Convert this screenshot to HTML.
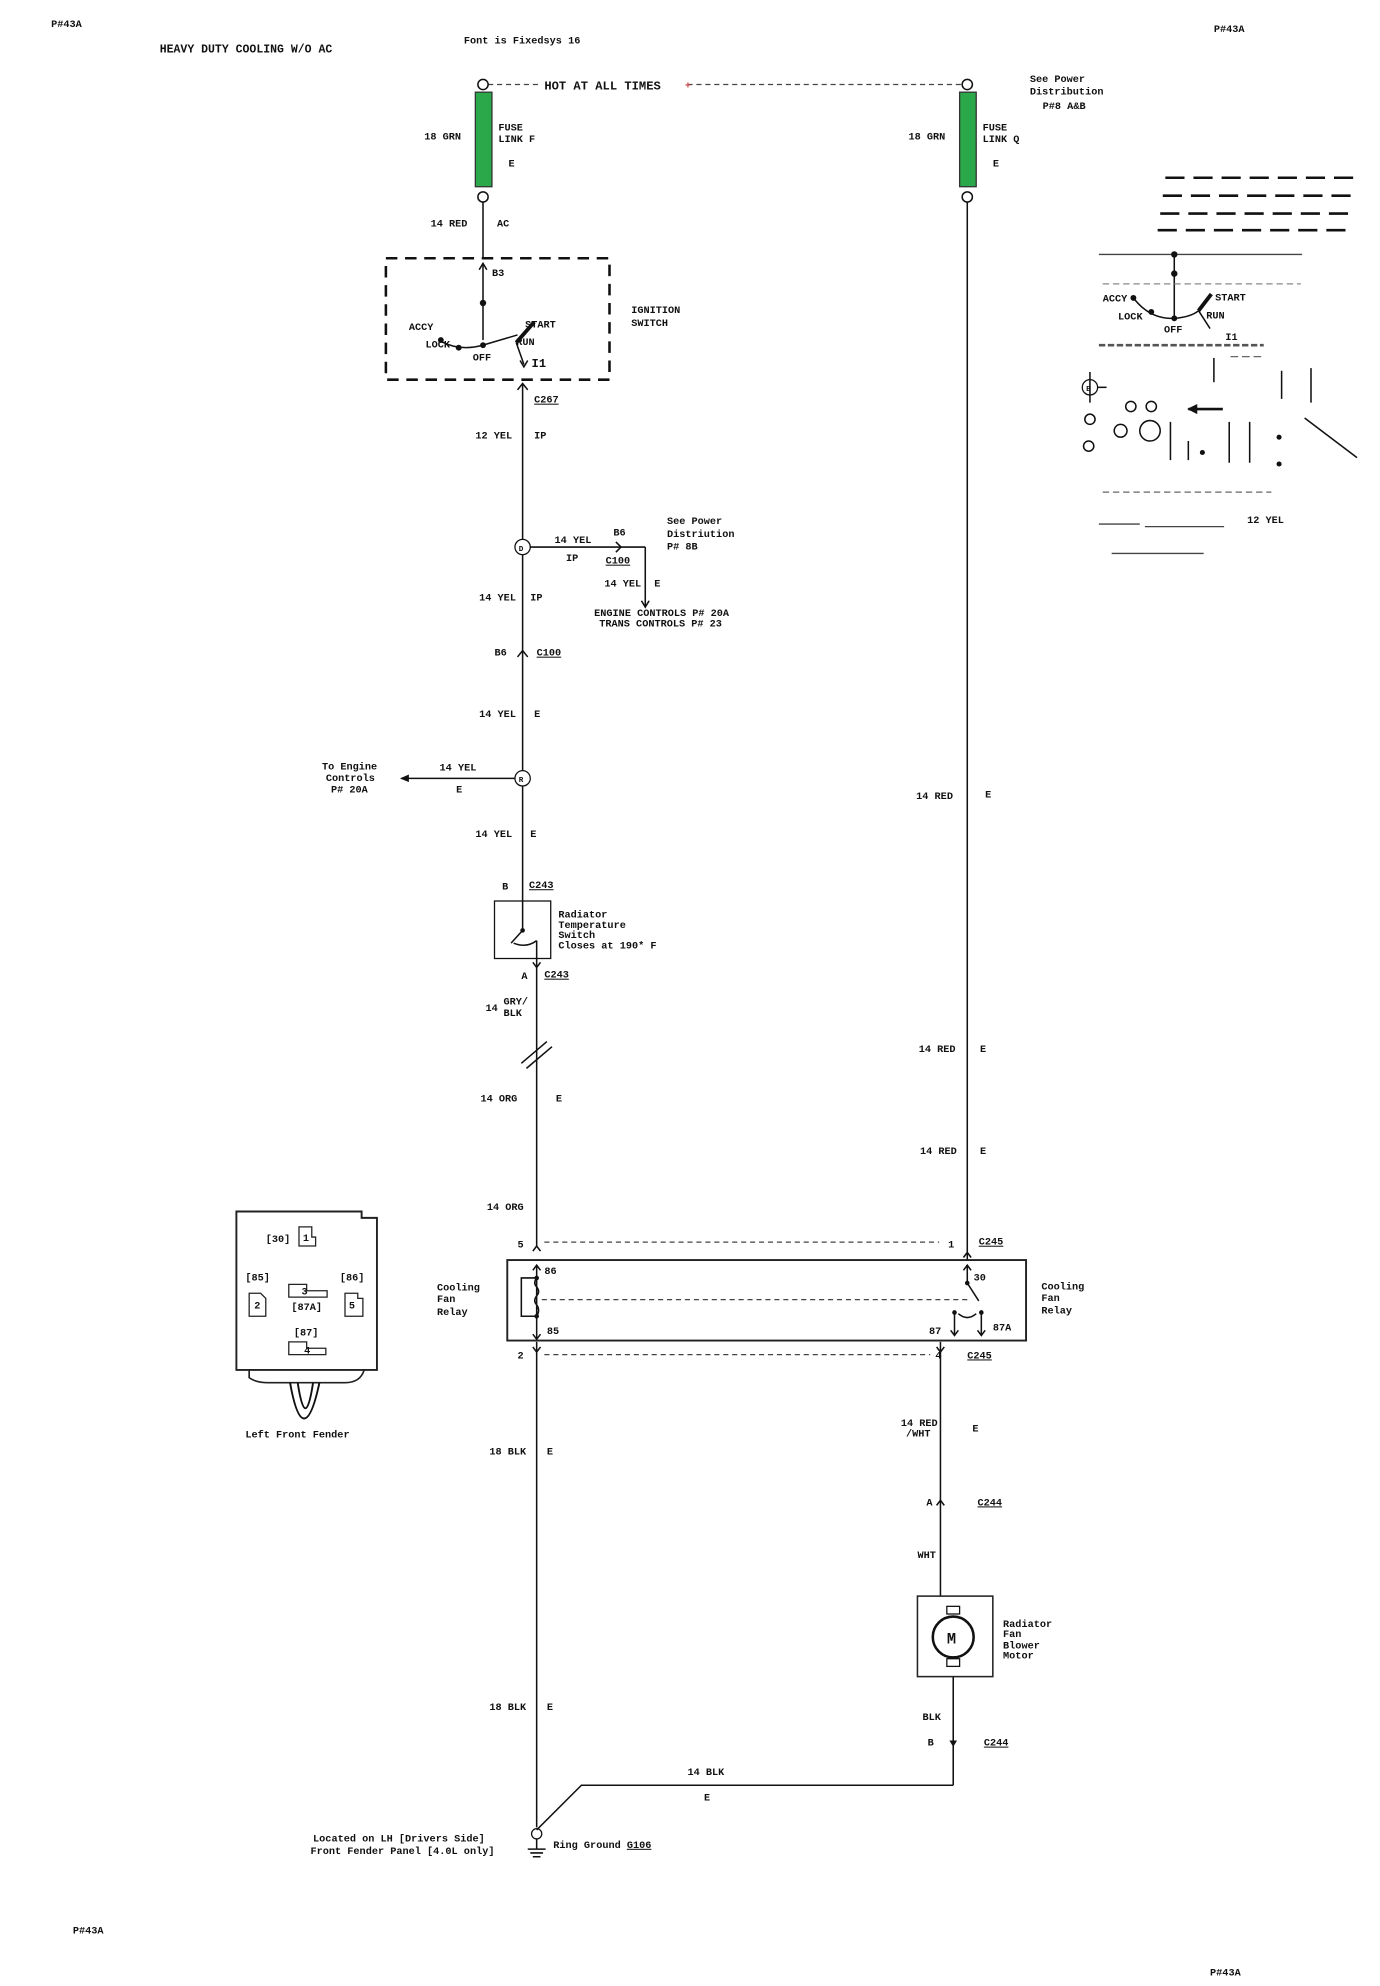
<!DOCTYPE html>
<html><head><meta charset="utf-8"><style>
html,body{margin:0;padding:0;background:#fff}
svg{display:block}
text{font-family:"Liberation Mono",monospace;font-size:8px;font-weight:bold;fill:#111}
.l{stroke:#111;stroke-width:1.2;fill:none}
.d{stroke:#444;stroke-width:1;stroke-dasharray:4 3;fill:none}
</style></head><body>
<svg width="1380" height="1986" viewBox="0 0 1080 1554" xmlns="http://www.w3.org/2000/svg">
<rect width="1080" height="1554" fill="#fff"/>
<text x="40" y="21">P#43A</text><text x="950" y="25">P#43A</text>
<text x="57" y="1513">P#43A</text><text x="947" y="1546">P#43A</text>
<text x="125" y="41" style="font-size:9px">HEAVY DUTY COOLING  W/O AC</text>
<text x="363" y="34">Font is Fixedsys 16</text>
<!-- top bus -->
<line class="d" x1="382" y1="66" x2="424" y2="66"/><line class="d" x1="538" y1="66" x2="753" y2="66"/>
<text x="426" y="70" style="font-size:9.5px">HOT AT ALL TIMES</text>
<text x="536" y="69" style="fill:#c44">+</text>
<circle cx="378" cy="66" r="4" class="l"/><circle cx="757" cy="66" r="4" class="l"/>
<text x="806" y="64">See Power</text><text x="806" y="74">Distribution</text><text x="816" y="85">P#8 A&amp;B</text>
<!-- fuses -->
<rect x="372" y="72" width="13" height="74" fill="#2aa84a" stroke="#333"/>
<rect x="751" y="72" width="13" height="74" fill="#2aa84a" stroke="#333"/>
<circle cx="378" cy="154" r="4" class="l"/><circle cx="757" cy="154" r="4" class="l"/>
<text x="332" y="109">18 GRN</text><text x="390" y="102">FUSE</text><text x="390" y="111">LINK F</text><text x="398" y="130">E</text>
<text x="711" y="109">18 GRN</text><text x="769" y="102">FUSE</text><text x="769" y="111">LINK Q</text><text x="777" y="130">E</text>
<!-- left upper wire -->
<line class="l" x1="378" y1="158" x2="378" y2="202"/>
<text x="337" y="177">14 RED</text><text x="389" y="177">AC</text>
<rect x="302" y="202" width="175" height="95" fill="none" stroke="#111" stroke-width="2" stroke-dasharray="9 6"/>
<line class="l" x1="378" y1="206" x2="378" y2="266"/><path class="l" d="M375 211 L378 206 L381 211"/>
<circle cx="378" cy="237" r="2.5" fill="#111"/><text x="385" y="216">B3</text>
<path class="l" d="M345 267 Q360 275 378 270 Q395 265 405 262"/>
<circle cx="345" cy="266" r="2.3" fill="#111"/><circle cx="359" cy="272" r="2.3" fill="#111"/><circle cx="378" cy="270" r="2.3" fill="#111"/>
<path d="M404 268 L418 252" stroke="#111" stroke-width="3"/>
<path class="l" d="M404 268 L410 285"/><path class="l" d="M407 282 L410 287 L413 282"/>
<text x="320" y="258">ACCY</text><text x="333" y="272">LOCK</text><text x="370" y="282">OFF</text>
<text x="411" y="256">START</text><text x="404" y="270">RUN</text><text x="416" y="287" style="font-size:9.5px">I1</text>
<text x="494" y="245">IGNITION</text><text x="494" y="255">SWITCH</text>
<!-- yellow wire -->
<path class="l" d="M405 305 L409 300 L413 305"/><text x="418" y="315" style="text-decoration:underline">C267</text>
<line class="l" x1="409" y1="300" x2="409" y2="705"/>
<text x="372" y="343">12 YEL</text><text x="418" y="343">IP</text>
<circle cx="409" cy="428" r="6" fill="#fff" stroke="#111"/><text x="406" y="431" style="font-size:6px">D</text>
<line class="l" x1="415" y1="428" x2="505" y2="428"/><path class="l" d="M482 424 L486 428 L482 432"/>
<line class="l" x1="505" y1="428" x2="505" y2="474"/><path class="l" d="M502 470 L505 475 L508 470"/>
<text x="434" y="425">14 YEL</text><text x="443" y="439">IP</text><text x="480" y="419">B6</text><text x="474" y="441" style="text-decoration:underline">C100</text>
<text x="522" y="410">See Power</text><text x="522" y="420">Distriution</text><text x="522" y="430">P# 8B</text>
<text x="473" y="459">14 YEL</text><text x="512" y="459">E</text>
<text x="465" y="482">ENGINE CONTROLS P# 20A</text><text x="469" y="490">TRANS CONTROLS P# 23</text>
<text x="375" y="470">14 YEL</text><text x="415" y="470">IP</text>
<path class="l" d="M405 514 L409 509 L413 514"/><text x="387" y="513">B6</text><text x="420" y="513" style="text-decoration:underline">C100</text>
<text x="375" y="561">14 YEL</text><text x="418" y="561">E</text>
<circle cx="409" cy="609" r="6" fill="#fff" stroke="#111"/><text x="406" y="612" style="font-size:6px">R</text>
<line class="l" x1="403" y1="609" x2="314" y2="609"/><path d="M320 606 L313 609 L320 612 Z" fill="#111"/>
<text x="344" y="603">14 YEL</text><text x="357" y="620">E</text>
<text x="252" y="602">To Engine</text><text x="255" y="611">Controls</text><text x="259" y="620">P# 20A</text>
<text x="372" y="655">14 YEL</text><text x="415" y="655">E</text>
<text x="393" y="696">B</text><text x="414" y="695" style="text-decoration:underline">C243</text>
<rect x="387" y="705" width="44" height="45" fill="none" stroke="#111"/>
<path class="l" d="M409 705 L409 728"/><circle cx="409" cy="728" r="1.8" fill="#111"/>
<path class="l" d="M409 728 L400 738 M402 738 Q412 742 420 736 M420 736 L420 757"/>
<text x="437" y="718">Radiator</text><text x="437" y="726">Temperature</text><text x="437" y="734">Switch</text><text x="437" y="742">Closes at 190* F</text>
<path class="l" d="M417 753 L420 757 L423 753"/><text x="408" y="766">A</text><text x="426" y="765" style="text-decoration:underline">C243</text>
<line class="l" x1="420" y1="757" x2="420" y2="975"/>
<text x="380" y="791">14</text><text x="394" y="786">GRY/</text><text x="394" y="795">BLK</text>
<path class="l" d="M408 832 L428 815 M412 836 L432 819"/>
<text x="376" y="862">14 ORG</text><text x="435" y="862">E</text>
<text x="381" y="947">14 ORG</text>
<!-- right long wire -->
<line class="l" x1="757" y1="158" x2="757" y2="986"/>
<text x="717" y="625">14 RED</text><text x="771" y="624">E</text>
<text x="719" y="823">14 RED</text><text x="767" y="823">E</text>
<text x="720" y="903">14 RED</text><text x="767" y="903">E</text>
<!-- relay -->
<text x="405" y="976">5</text><line class="d" x1="426" y1="972" x2="735" y2="972"/><text x="742" y="976">1</text>
<text x="766" y="974" style="text-decoration:underline">C245</text>
<path class="l" d="M417 979 L420 975 L423 979"/><path class="l" d="M754 984 L757 980 L760 984"/>
<rect x="397" y="986" width="406" height="63" fill="none" stroke="#222" stroke-width="1.5"/>
<path class="l" d="M420 990 L420 1048"/><path class="l" d="M417 994 L420 990 L423 994"/><path class="l" d="M417 1044 L420 1048 L423 1044"/>
<text x="426" y="997">86</text><text x="428" y="1044">85</text>
<path class="l" d="M420 1000 L408 1000 L408 1030 L420 1030 M420 1000 q-3 4 0 7 q3 4 0 7 q-3 4 0 7 q3 4 0 9"/>
<circle cx="420" cy="1000" r="1.8" fill="#111"/><circle cx="420" cy="1030" r="1.8" fill="#111"/>
<line class="d" x1="424" y1="1017" x2="758" y2="1017"/>
<path class="l" d="M757 990 L757 1004 L766 1018"/><path class="l" d="M754 994 L757 990 L760 994"/><circle cx="757" cy="1004" r="1.8" fill="#111"/>
<circle cx="747" cy="1027" r="1.8" fill="#111"/><circle cx="768" cy="1027" r="1.8" fill="#111"/>
<path class="l" d="M747 1027 L747 1045 M768 1027 L768 1045 M750 1028 Q757 1034 764 1028"/>
<path class="l" d="M744 1041 L747 1045 L750 1041 M765 1041 L768 1045 L771 1041"/>
<text x="762" y="1002">30</text><text x="727" y="1044">87</text><text x="777" y="1041">87A</text>
<text x="342" y="1010">Cooling</text><text x="342" y="1019">Fan</text><text x="342" y="1029">Relay</text>
<text x="815" y="1009">Cooling</text><text x="815" y="1018">Fan</text><text x="815" y="1028">Relay</text>
<text x="405" y="1063">2</text><line class="d" x1="426" y1="1060" x2="728" y2="1060"/><text x="732" y="1063">4</text>
<text x="757" y="1063" style="text-decoration:underline">C245</text>
<path class="l" d="M417 1054 L420 1058 L423 1054 M733 1054 L736 1058 L739 1054"/>
<line class="l" x1="420" y1="1050" x2="420" y2="1430"/>
<text x="383" y="1138">18 BLK</text><text x="428" y="1138">E</text>
<text x="383" y="1338">18 BLK</text><text x="428" y="1338">E</text>
<line class="l" x1="736" y1="1050" x2="736" y2="1249"/>
<text x="705" y="1116">14 RED</text><text x="709" y="1124">/WHT</text><text x="761" y="1120">E</text>
<path class="l" d="M733 1178 L736 1174 L739 1178"/><text x="725" y="1178">A</text><text x="765" y="1178" style="text-decoration:underline">C244</text>
<text x="718" y="1219">WHT</text>
<rect x="718" y="1249" width="59" height="63" fill="none" stroke="#222" stroke-width="1.2"/>
<rect x="741" y="1257" width="10" height="6" fill="none" stroke="#111"/><rect x="741" y="1298" width="10" height="6" fill="none" stroke="#111"/>
<circle cx="746" cy="1281" r="16" fill="#fff" stroke="#111" stroke-width="2"/><text x="741" y="1286" style="font-size:12px">M</text>
<text x="785" y="1273">Radiator</text><text x="785" y="1281">Fan</text><text x="785" y="1290">Blower</text><text x="785" y="1298">Motor</text>
<line class="l" x1="746" y1="1312" x2="746" y2="1397"/>
<text x="722" y="1346">BLK</text><text x="726" y="1366">B</text><text x="770" y="1366" style="text-decoration:underline">C244</text>
<path d="M743 1362 L746 1367 L749 1362 Z" fill="#111"/>
<path class="l" d="M746 1397 L455 1397 L420 1432"/>
<text x="538" y="1389">14 BLK</text><text x="551" y="1409">E</text>
<circle cx="420" cy="1435" r="4" fill="none" stroke="#111"/><path class="l" d="M420 1439 L420 1447 M413 1447 L427 1447 M415 1450 L425 1450 M417 1453 L423 1453"/>
<text x="433" y="1446">Ring Ground <tspan style="text-decoration:underline">G106</tspan></text>
<text x="245" y="1441">Located on LH [Drivers Side]</text><text x="243" y="1451">Front Fender Panel [4.0L only]</text>
<!-- relay socket diagram -->
<path d="M185 948 L283 948 L283 953 L295 953 L295 1072 L185 1072 Z" fill="#fff" stroke="#222" stroke-width="1.5"/>
<path d="M195 1072 L195 1078 Q200 1082 210 1082 L270 1082 Q282 1082 285 1072" fill="none" stroke="#222" stroke-width="1.3"/>
<path d="M227 1082 Q232 1110 238 1110 Q244 1110 250 1082 M233 1082 Q236 1102 239 1102 Q242 1102 245 1082" fill="none" stroke="#111" stroke-width="1.5"/>
<text x="192" y="1125">Left Front Fender</text>
<text x="208" y="972">[30]</text><path d="M234 960 L244 960 L244 968 L247 968 L247 975 L234 975 Z" fill="none" stroke="#222"/><text x="237" y="971">1</text>
<text x="192" y="1002">[85]</text><path d="M195 1012 L204 1012 L208 1016 L208 1030 L195 1030 Z" fill="none" stroke="#222"/><text x="199" y="1024">2</text>
<text x="266" y="1002">[86]</text><path d="M270 1012 L280 1012 L280 1016 L284 1016 L284 1030 L270 1030 Z" fill="none" stroke="#222"/><text x="273" y="1024">5</text>
<path d="M226 1005 L240 1005 L240 1010 L256 1010 L256 1015 L226 1015 Z" fill="none" stroke="#222"/><text x="236" y="1013">3</text><text x="228" y="1025">[87A]</text>
<text x="230" y="1045">[87]</text><path d="M226 1050 L240 1050 L240 1055 L255 1055 L255 1060 L226 1060 Z" fill="none" stroke="#222"/><text x="238" y="1059">4</text>
<!-- right legend clutter -->
<g stroke="#111" stroke-width="2" stroke-dasharray="15 7">
<line x1="912" y1="139" x2="1066" y2="139"/><line x1="910" y1="153" x2="1064" y2="153"/>
<line x1="908" y1="167" x2="1057" y2="167"/><line x1="906" y1="180" x2="1057" y2="180"/></g>
<line x1="860" y1="199" x2="1019" y2="199" stroke="#444"/>
<line class="l" x1="919" y1="199" x2="919" y2="249"/><circle cx="919" cy="199" r="2.5" fill="#111"/><circle cx="919" cy="214" r="2.5" fill="#111"/>
<line x1="863" y1="222" x2="1018" y2="222" stroke="#888" stroke-dasharray="5 3"/>
<path class="l" d="M887 233 Q900 250 919 249 Q932 248 938 243"/><circle cx="887" cy="233" r="2.3" fill="#111"/><circle cx="901" cy="244" r="2.3" fill="#111"/><circle cx="919" cy="249" r="2.3" fill="#111"/>
<path d="M938 243 L948 230" stroke="#111" stroke-width="3"/><path class="l" d="M938 243 L947 257"/>
<text x="863" y="236">ACCY</text><text x="875" y="250">LOCK</text><text x="911" y="260">OFF</text><text x="951" y="235">START</text><text x="944" y="249">RUN</text><text x="959" y="266">I1</text>
<line x1="860" y1="270" x2="989" y2="270" stroke="#555" stroke-width="2" stroke-dasharray="5 2"/>
<line class="l" x1="950" y1="280" x2="950" y2="299"/><line x1="963" y1="279" x2="989" y2="279" stroke="#666" stroke-dasharray="6 3"/>
<circle cx="853" cy="303" r="6" fill="none" stroke="#111"/><text x="850" y="306" style="font-size:6px">B</text>
<line class="l" x1="853" y1="291" x2="853" y2="315"/><line class="l" x1="859" y1="303" x2="866" y2="303"/>
<circle cx="885" cy="318" r="4" class="l"/><circle cx="901" cy="318" r="4" class="l"/>
<path d="M930 320 L957 320" stroke="#111" stroke-width="2"/><path d="M937 316 L929 320 L937 324 Z" fill="#111"/>
<circle cx="853" cy="328" r="4" class="l"/><circle cx="852" cy="349" r="4" class="l"/>
<circle cx="877" cy="337" r="5" class="l"/><circle cx="900" cy="337" r="8" class="l"/>
<path class="l" d="M916 330 L916 360 M930 345 L930 360 M962 330 L962 362 M978 330 L978 362 M1021 327 L1062 358"/>
<circle cx="1001" cy="342" r="2" fill="#111"/><circle cx="1001" cy="363" r="2" fill="#111"/><circle cx="941" cy="354" r="2" fill="#111"/>
<path class="l" d="M1003 290 L1003 312 M1026 288 L1026 315"/>
<line x1="863" y1="385" x2="995" y2="385" stroke="#666" stroke-dasharray="5 3"/>
<text x="976" y="409">12 YEL</text>
<line x1="860" y1="410" x2="892" y2="410" stroke="#444"/><line x1="896" y1="412" x2="958" y2="412" stroke="#444"/>
<line x1="870" y1="433" x2="942" y2="433" stroke="#444"/>
</svg>
</body></html>
